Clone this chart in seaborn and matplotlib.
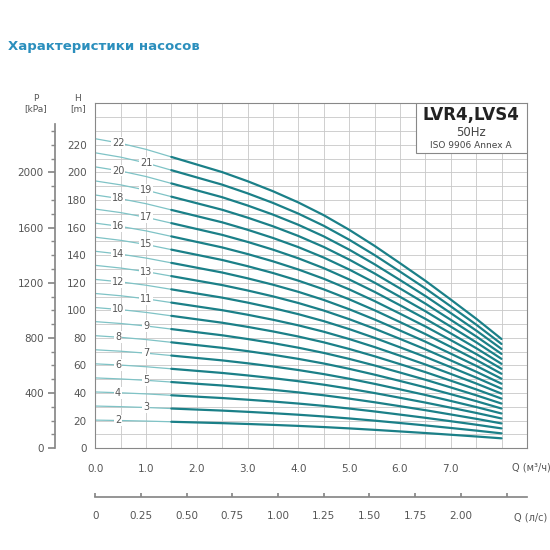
import numpy as np
import matplotlib
matplotlib.use("Agg")
import matplotlib.pyplot as plt
import seaborn as sns
import pandas as pd
from matplotlib.patches import Rectangle

sns.set_theme(style="white")
plt.rcParams['font.family'] = ['DejaVu Sans']

stages = list(range(2, 23))
q_full = [0, 0.5, 1.0, 1.5, 2.0, 2.5, 3.0, 3.5, 4.0, 4.5, 5.0, 5.5, 6.0, 6.5, 7.0, 7.5, 8.0]
head_per_stage = [10.2, 10.05, 9.85, 9.6, 9.35, 9.1, 8.8, 8.47, 8.1, 7.68, 7.2, 6.67,
                  6.1, 5.52, 4.9, 4.27, 3.6]
p_ticks = [0, 400, 800, 1200, 1600, 2000]
h_ticks = list(range(0, 221, 20))
q_ticks = [0, 1, 2, 3, 4, 5, 6, 7]
qls_ticks = [0, 0.25, 0.5, 0.75, 1.0, 1.25, 1.5, 1.75, 2.0]

teal = "#1b8088"
light = "#7fc3c6"

fig = plt.figure(figsize=(5.5, 5.5), dpi=100)
ax = fig.add_axes([0.173, 0.185, 0.785, 0.627])
ax.set_xlim(0, 8.5)
ax.set_ylim(0, 250)

ax.set_xticks(np.arange(0, 8.51, 0.5), minor=True)
ax.set_yticks(np.arange(0, 251, 10), minor=True)
ax.grid(True, which="both", color="#c8c8c8", lw=0.6)
ax.set_axisbelow(True)
for s in ax.spines.values():
    s.set_color("#888888"); s.set_linewidth(0.8)

rows = []
for n in stages:
    for q, h in zip(q_full, head_per_stage):
        rows.append({"stage": n, "Q": q, "H": n * h})
df = pd.DataFrame(rows)

for n in stages:
    d = df[df.stage == n]
    thin = d[d.Q <= 1.5]
    thick = d[d.Q >= 1.5]
    sns.lineplot(data=thin, x="Q", y="H", ax=ax, color=light, lw=0.9)
    sns.lineplot(data=thick, x="Q", y="H", ax=ax, color=teal, lw=1.6)
    qx = 0.45 if n % 2 == 0 else 1.0
    yv = np.interp(qx, d.Q, d.H)
    ax.text(qx, yv, str(n), fontsize=7, color="#555555", ha="center", va="center",
            bbox=dict(facecolor="white", edgecolor="none", pad=0.6))

ax.set_xlabel(""); ax.set_ylabel("")
ax.set_xticks(q_ticks)
ax.set_xticklabels([f"{v:.1f}" for v in q_ticks], fontsize=7.5, color="#555555")
ax.set_yticks(h_ticks)
ax.set_yticklabels([str(v) for v in h_ticks], fontsize=7.5, color="#555555")
ax.tick_params(axis="y", which="both", length=0, pad=6)
ax.tick_params(axis="x", which="both", length=3, color="#888888", direction="out", pad=8)
ax.text(-0.04, 1.0, "H\n[m]", transform=ax.transAxes, fontsize=6.5, color="#555555",
        ha="center", va="center")
ax.text(8.58, -14, "Q (м³/ч)", fontsize=7, color="#555555", ha="center", va="center",
        clip_on=False)

# pressure axis
axp = ax.twinx()
axp.set_ylim(0, 2500)
axp.yaxis.set_ticks_position("left")
axp.yaxis.set_label_position("left")
axp.spines["left"].set_position(("outward", 29))
axp.spines["left"].set_color("#888888")
axp.spines["left"].set_bounds(0, 2350)
for k in ["right", "top", "bottom"]:
    axp.spines[k].set_visible(False)
axp.set_yticks(p_ticks)
axp.set_yticklabels([str(v) for v in p_ticks], fontsize=7.5, color="#555555")
axp.set_yticks(np.arange(0, 2301, 100), minor=True)
axp.tick_params(axis="y", which="major", length=5, color="#888888", pad=3)
axp.tick_params(axis="y", which="minor", length=3, color="#888888")
axp.grid(False)
ax.text(-0.137, 1.0, "P\n[kPa]", transform=ax.transAxes, fontsize=6.5, color="#555555",
        ha="center", va="center")

# l/s axis
sec = ax.secondary_xaxis("bottom", functions=(lambda x: x / 3.6, lambda x: x * 3.6))
sec.spines["bottom"].set_position(("outward", 35))
sec.spines["bottom"].set_color("#888888")
sec.set_xticks(qls_ticks + [2.25])
sec.set_xticklabels(["0"] + [f"{v:.2f}" for v in qls_ticks[1:]] + [""], fontsize=7.5,
                    color="#555555")
sec.tick_params(axis="x", direction="in", length=3, color="#888888", pad=10)
ax.text(8.58, -50, "Q (л/с)", fontsize=7, color="#555555", ha="center", va="center",
        clip_on=False)

# info box
ax.add_patch(Rectangle((0.743, 0.855), 0.257, 0.145, transform=ax.transAxes,
                       facecolor="white", edgecolor="#888888", lw=0.8, zorder=5))
ax.text(0.87, 0.965, "LVR4,LVS4", transform=ax.transAxes, fontsize=12, fontweight="bold",
        ha="center", va="center", color="#222222", zorder=6)
ax.text(0.87, 0.915, "50Hz", transform=ax.transAxes, fontsize=8.5, ha="center",
        va="center", color="#444444", zorder=6)
ax.text(0.87, 0.878, "ISO 9906 Annex A", transform=ax.transAxes, fontsize=6.5,
        ha="center", va="center", color="#444444", zorder=6)

fig.text(0.015, 0.915, "Характеристики насосов", fontsize=9.5, fontweight="bold",
         color="#2b8fbd", ha="left", va="center")

fig.savefig("out.png", dpi=100, facecolor="white")
